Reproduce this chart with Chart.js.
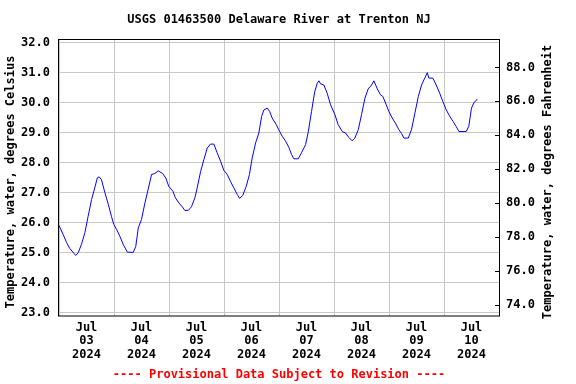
<!DOCTYPE html>
<html>
<head>
<meta charset="utf-8">
<title>USGS 01463500 Delaware River at Trenton NJ</title>
<script src="https://cdn.jsdelivr.net/npm/chart.js@4/dist/chart.umd.min.js"></script>
<style>
  html, body { margin: 0; padding: 0; background: #fff; }
  #wrap { width: 576px; height: 384px; }
</style>
</head>
<body>
<div id="wrap"><canvas id="tempChart" width="576" height="384"></canvas></div>
<script>
// ---------- DATA ----------
// hours since 2024-07-03 00:00
const hours = [
    0, 1.8, 3.3, 4.7, 6.5, 7.3, 8.4, 9.8, 11.3, 12.7, 14.2, 15.6, 16.7, 17.5, 18.5, 20.0, 21.5, 22.9, 23.9,
    25.1, 26.5, 28.0, 29.8, 32.4, 33.5, 34.6, 36.0, 37.5, 38.9, 40.4, 41.8, 43.3, 45.2, 46.6, 47.9,
    49.7, 50.8, 52.3, 53.8, 54.9, 56.4, 57.8, 59.3, 60.3, 61.8, 63.2, 64.7, 66.1, 67.6, 69.0, 70.5, 71.9,
    73.4, 74.8, 76.3, 77.8, 78.8, 80.2, 81.7, 83.1, 84.3, 85.8, 87.2, 88.4, 89.4, 90.9, 91.9, 93.0, 94.8,
    95.9, 97.4, 98.8, 100.3, 101.5, 102.5, 104.4, 105.8, 107.6, 108.8, 110.2, 111.6, 112.7, 113.4, 114.1,
    115.6, 117.0, 118.5, 120.4, 121.8, 123.6, 125.0, 126.5, 127.9, 129.1, 130.6, 132.0, 133.5, 134.9,
    136.4, 137.4, 138.9, 140.3, 141.3, 142.8, 143.9, 145.4, 146.8, 148.3, 149.5, 150.5, 152.4, 153.8,
    155.3, 156.8, 158.2, 159.6, 160.7, 161.4, 163.1, 164.6, 166.1, 167.5, 169.0, 170.4, 171.9, 173.3,
    174.5, 177.7, 178.8, 180.0, 181.0, 182.5
];
const tempC = [
    25.90, 25.60, 25.33, 25.13, 24.97, 24.90, 24.99, 25.27, 25.66, 26.20, 26.76, 27.15, 27.48, 27.52, 27.43, 27.00, 26.60, 26.20, 25.93,
    25.77, 25.55, 25.27, 25.01, 25.00, 25.20, 25.82, 26.10, 26.65, 27.10, 27.60, 27.63, 27.72, 27.63, 27.48, 27.20,
    27.04, 26.82, 26.65, 26.52, 26.40, 26.40, 26.52, 26.82, 27.15, 27.70, 28.09, 28.48, 28.61, 28.61, 28.32, 28.04, 27.74,
    27.60, 27.37, 27.15, 26.93, 26.80, 26.90, 27.20, 27.60, 28.15, 28.65, 28.98, 29.53, 29.75, 29.81, 29.70, 29.48, 29.26,
    29.09, 28.87, 28.72, 28.50, 28.26, 28.12, 28.12, 28.32, 28.59, 29.03, 29.70, 30.36, 30.64, 30.72, 30.62,
    30.58, 30.31, 29.92, 29.59, 29.26, 29.03, 28.98, 28.83, 28.72, 28.81, 29.09, 29.59, 30.14, 30.45,
    30.58, 30.72, 30.45, 30.25, 30.20, 29.92, 29.70, 29.48, 29.31, 29.09, 28.96, 28.81, 28.81, 29.09,
    29.64, 30.20, 30.58, 30.81, 30.99, 30.81, 30.81, 30.58, 30.31, 30.03, 29.75, 29.55, 29.37, 29.20,
    29.03, 29.03, 29.20, 29.81, 29.98, 30.11
];
const dayLabels = ["03", "04", "05", "06", "07", "08", "09", "10"];
const celsiusTicks = [23, 24, 25, 26, 27, 28, 29, 30, 31, 32];
const fahrenheitTicks = [74, 76, 78, 80, 82, 84, 86, 88];

const titleText = "USGS 01463500 Delaware River at Trenton NJ";
const leftAxisText = "Temperature, water, degrees Celsius";
const rightAxisText = "Temperature, water, degrees Fahrenheit";
const footerText = "---- Provisional Data Subject to Revision ----";

const FONT = "'DejaVu Sans Mono', 'Liberation Mono', monospace";
const GRID = "#c8c8c8";

// ---------- Plugin: frame, inner ticks on right axis, axis titles ----------
const framePlugin = {
    id: "frame",
    afterDraw(chart) {
        const { ctx, chartArea: a } = chart;
        ctx.save();
        ctx.strokeStyle = "#000";
        ctx.lineWidth = 1;
        ctx.strokeRect(Math.round(a.left) - 0.5, Math.round(a.top) + 0.5,
            Math.round(a.right - a.left) + 1, Math.round(a.bottom - a.top) - 0.5);

        // short inward ticks on the Fahrenheit axis
        const y2 = chart.scales.y2;
        y2.ticks.forEach(t => {
            const py = Math.round(y2.getPixelForValue(t.value)) + 0.5;
            ctx.beginPath();
            ctx.moveTo(a.right - 4, py);
            ctx.lineTo(a.right, py);
            ctx.stroke();
        });

        // rotated axis titles (both read bottom to top)
        ctx.fillStyle = "#000";
        ctx.font = "bold 12px " + FONT;
        ctx.textAlign = "center";
        ctx.textBaseline = "middle";
        ctx.save();
        ctx.translate(11, 182);
        ctx.rotate(-Math.PI / 2);
        ctx.fillText(leftAxisText, 0, 0);
        ctx.restore();
        ctx.save();
        ctx.translate(548, 182);
        ctx.rotate(-Math.PI / 2);
        ctx.fillText(rightAxisText, 0, 0);
        ctx.restore();
        ctx.restore();
    }
};

// ---------- LINE CHART: WATER TEMPERATURE ----------
function renderTempChart() {
    const ctx = document.getElementById("tempChart").getContext("2d");
    const points = hours.map((h, i) => ({ x: h, y: tempC[i] }));

    new Chart(ctx, {
        type: "line",
        data: {
            datasets: [{
                label: "Temperature",
                data: points,
                borderColor: "#0000ff",
                borderWidth: 1,
                pointRadius: 0,
                tension: 0,
                fill: false
            }]
        },
        options: {
            responsive: false,
            animation: false,
            layout: { padding: 0 },
            plugins: {
                legend: { display: false },
                tooltip: { enabled: false },
                title: {
                    display: true,
                    text: titleText,
                    fullSize: false,
                    color: "#000",
                    font: { family: FONT, size: 12, weight: "bold" },
                    padding: { top: 13, bottom: 12 }
                }
            },
            scales: {
                x: {
                    type: "linear",
                    min: 0,
                    max: 192,
                    afterBuildTicks: scale => {
                        const t = [];
                        for (let v = 0; v <= 192; v += 12) t.push({ value: v });
                        scale.ticks = t;
                    },
                    afterFit: scale => { scale.height = 68; },
                    ticks: {
                        autoSkip: false,
                        maxRotation: 0,
                        padding: 5,
                        color: "#000",
                        font: { family: FONT, size: 12, weight: "bold", lineHeight: 1.125 },
                        callback: v => (v % 24 === 12) ? ["Jul", dayLabels[(v - 12) / 24], "2024"] : ""
                    },
                    grid: {
                        drawTicks: false,
                        color: c => (c.tick && c.tick.value % 24 === 0) ? GRID : "rgba(0,0,0,0)"
                    },
                    border: { display: false },
                    title: {
                        display: true,
                        text: footerText,
                        color: "#ff0000",
                        font: { family: FONT, size: 12, weight: "bold" },
                        padding: { top: 0, bottom: 2 }
                    }
                },
                y: {
                    position: "left",
                    min: 22.88,
                    max: 32.1,
                    afterBuildTicks: scale => { scale.ticks = celsiusTicks.map(v => ({ value: v })); },
                    afterFit: scale => { scale.width = 59; },
                    ticks: {
                        padding: 9,
                        color: "#000",
                        font: { family: FONT, size: 12, weight: "bold" },
                        callback: v => v.toFixed(1)
                    },
                    grid: { drawTicks: false, color: GRID },
                    border: { display: false }
                },
                y2: {
                    position: "right",
                    min: 73.35,
                    max: 89.65,
                    afterBuildTicks: scale => { scale.ticks = fahrenheitTicks.map(v => ({ value: v })); },
                    afterFit: scale => { scale.width = 77; },
                    ticks: {
                        padding: 7,
                        color: "#000",
                        font: { family: FONT, size: 12, weight: "bold" },
                        callback: v => v.toFixed(1)
                    },
                    grid: { drawOnChartArea: false, drawTicks: false },
                    border: { display: false }
                }
            }
        },
        plugins: [framePlugin]
    });
}

document.addEventListener("DOMContentLoaded", renderTempChart);
</script>
</body>
</html>
